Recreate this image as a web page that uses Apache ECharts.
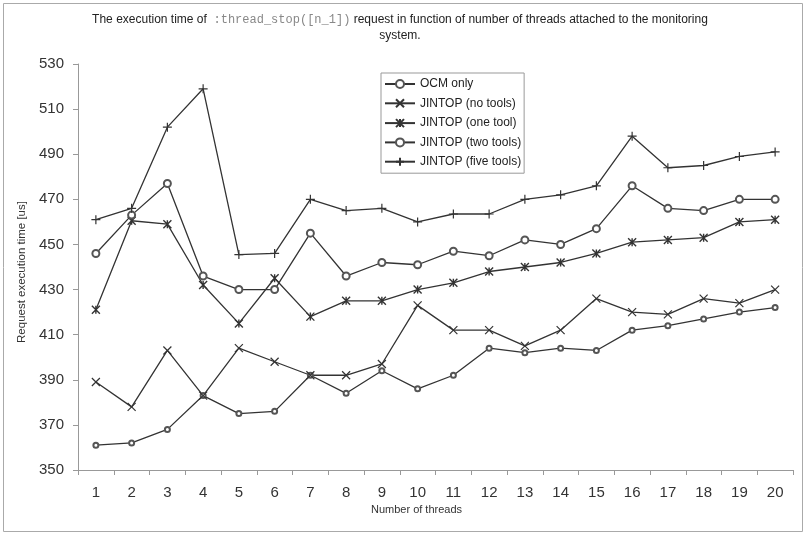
<!DOCTYPE html>
<html>
<head>
<meta charset="utf-8">
<script src="https://cdn.jsdelivr.net/npm/echarts@6/dist/echarts.min.js"></script>
<style>html,body{margin:0;padding:0;background:#fff}#c{width:806px;height:535px}</style>
</head>
<body>
<div id="c"></div>
<script>
const categories = ['1','2','3','4','5','6','7','8','9','10','11','12','13','14','15','16','17','18','19','20'];
const ocmOnly   = [361,362,368,383,375,376,392,384,394,386,392,404,402,404,403,412,414,417,420,422];
const noTools   = [389,378,403,383,404,398,392,392,397,423,412,412,405,412,426,420,419,426,424,430];
const oneTool   = [421,460.5,459,432,415,435,418,425,425,430,433,438,440,442,446,451,452,453,460,461];
const twoTools  = [446,463,477,436,430,430,455,436,442,441,447,445,452,450,457,476,466,465,470,470];
const fiveTools = [461,466,502,519,445.5,446,470,465,466,460,463.5,463.5,470,472,476,498,484,485,489,491];
const seriesNames = ['OCM only','JINTOP (no tools)','JINTOP (one tool)','JINTOP (two tools)','JINTOP (five tools)'];

const LINE = '#333';
const symX = 'path://M0,0L10,10M10,0L0,10';
const symAst = 'path://M0,0L10,10M10,0L0,10M5,0L5,10';
const symPlus = 'path://M5,0L5,10M0,5L10,5';

function mk(name, data, symbol, size, bw) {
  const isPath = symbol.indexOf('path') === 0;
  return {
    name: name, type: 'line', data: data,
    symbol: symbol, symbolSize: size, showSymbol: true,
    lineStyle: {color: LINE, width: 1.3},
    itemStyle: isPath ? {color: 'none', borderColor: LINE, borderWidth: bw} : {color: '#555', borderWidth: bw},
    emphasis: {disabled: true},
    animation: false
  };
}

const chart = echarts.init(document.getElementById('c'), null, {renderer: 'canvas'});
chart.setOption({
  backgroundColor: '#fff',
  animation: false,
  graphic: [
    {type: 'rect', shape: {x: 3.5, y: 3.5, width: 799, height: 528}, style: {fill: 'none', stroke: '#aaa', lineWidth: 1}, silent: true},
    {type: 'text', x: 400, y: 20, style: {
      text: '{a|The execution time of  }{b|:thread_stop([n_1])}{a| request in function of number of threads attached to the monitoring}',
      align: 'center', verticalAlign: 'middle',
      rich: {
        a: {fontFamily: 'Liberation Sans, Arial', fontSize: 12, fill: '#222'},
        b: {fontFamily: 'Liberation Mono, Courier New', fontSize: 12, fill: '#888'}
      }}},
    {type: 'text', x: 400, y: 36, style: {text: 'system.', align: 'center', verticalAlign: 'middle', fontFamily: 'Liberation Sans, Arial', fontSize: 12, fill: '#222'}}
  ],
  legend: {
    orient: 'vertical', left: 381, top: 73,
    padding: [5, 3, 5, 3],
    itemWidth: 30, itemHeight: 10, itemGap: 6.8,
    borderColor: '#999', borderWidth: 1,
    textStyle: {fontFamily: 'Liberation Sans, Arial', fontSize: 12, color: '#222', lineHeight: 12},
    data: seriesNames
  },
  grid: {left: 78, right: 13, top: 64, bottom: 65, containLabel: false},
  xAxis: {
    type: 'category', data: categories, boundaryGap: true,
    name: 'Number of threads', nameLocation: 'middle', nameGap: 23,
    nameTextStyle: {fontFamily: 'Liberation Sans, Arial', fontSize: 11, color: '#333', padding: [0, 38, 0, 0]},
    axisLine: {lineStyle: {color: '#999', width: 1}},
    axisTick: {show: true, length: 5, alignWithLabel: false, lineStyle: {color: '#999'}},
    axisLabel: {fontFamily: 'Liberation Sans, Arial', fontSize: 15, color: '#333', margin: 15, interval: 0},
    splitLine: {show: false}
  },
  yAxis: {
    type: 'value', min: 350, max: 530, interval: 20,
    name: 'Request execution time [us]', nameLocation: 'middle', nameGap: 46, nameRotate: 90,
    nameTextStyle: {fontFamily: 'Liberation Sans, Arial', fontSize: 11.5, color: '#333', padding: [0, 10, 0, 0]},
    axisLine: {show: true, lineStyle: {color: '#999', width: 1}},
    axisTick: {show: true, length: 5, lineStyle: {color: '#999'}},
    axisLabel: {fontFamily: 'Liberation Sans, Arial', fontSize: 15, color: '#333', margin: 14},
    splitLine: {show: false}
  },
  series: [
    mk(seriesNames[0], ocmOnly, 'emptyCircle', 5, 0.9),
    mk(seriesNames[1], noTools, symX, 8, 1.2),
    mk(seriesNames[2], oneTool, symAst, 8, 1.4),
    mk(seriesNames[3], twoTools, 'emptyCircle', 7, 0.9),
    mk(seriesNames[4], fiveTools, symPlus, 9, 1.2)
  ]
});
</script>
</body>
</html>
